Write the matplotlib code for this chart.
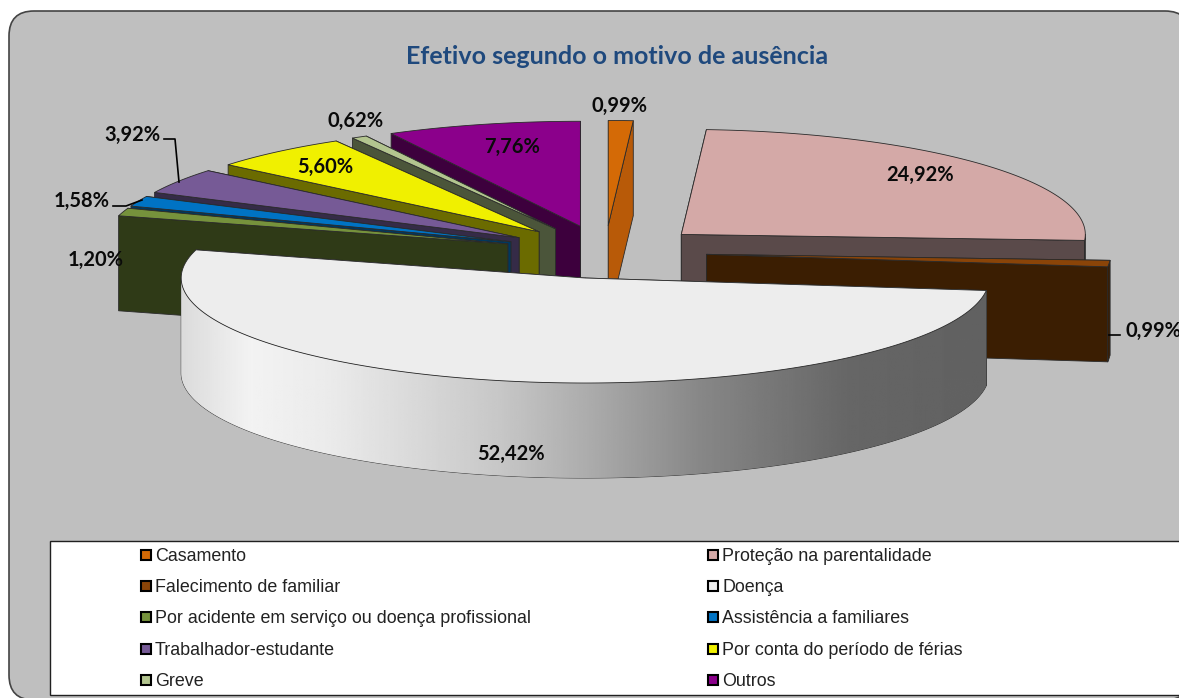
import numpy as np
from matplotlib import pyplot as plt
from matplotlib.patches import FancyBboxPatch, Polygon, Rectangle

categories = ["Casamento", "Proteção na parentalidade", "Falecimento de familiar", "Doença",
              "Por acidente em serviço ou doença profissional", "Assistência a familiares",
              "Trabalhador-estudante", "Por conta do período de férias", "Greve", "Outros"]
values = [0.99, 24.92, 0.99, 52.42, 1.20, 1.58, 3.92, 5.60, 0.62, 7.76]
top_colors = ["#D46A06", "#D4A9A7", "#8A4408", "#EDEDED", "#76923C",
              "#0073C4", "#765A96", "#F0F000", "#B3C58F", "#8B008B"]
side_colors = ["#B85A08", "#5A4A4A", "#3B1E02", "#808080", "#2F3A17",
               "#00385F", "#352B47", "#6B6B00", "#4B553A", "#3D003D"]
title = "Efetivo segundo o motivo de ausência"

# pie geometry, in pixels of the output
CX, CY = 605, 252
RX, RY = 404, 105
EXPLODE = 102
DEPTH = 95

label_pos = [(619, 106), (920, 175), (1153, 331), (511, 454), (96, 260),
             (82, 201), (132, 135), (325, 167), (356, 121), (512, 147)]
leaders = [[(1109, 335), (1120, 335)],
           [(113, 206), (126, 206), (142, 200)],
           [(164, 139), (175, 139), (179, 182)]]
grad_pos = [181, 250, 330, 500, 600, 700, 850, 990]
grad_val = [0.86, 0.95, 0.92, 0.78, 0.66, 0.53, 0.40, 0.38]

plt.rcParams['font.family'] = ['Liberation Sans', 'DejaVu Sans']

fig = plt.figure(figsize=(11.79, 6.98), dpi=100, facecolor="white")
ax = fig.add_axes([0, 0, 1, 1])
ax.set_xlim(0, 1179)
ax.set_ylim(698, 0)
ax.axis("off")

ax.add_patch(FancyBboxPatch((9, 11), 1181, 689, boxstyle="round,pad=0,rounding_size=25",
                            fc="#BFBFBF", ec="#444444", lw=1.2, zorder=0))


def arc(a0, a1, tx, ty, dz=0):
    t = np.radians(np.linspace(a0, a1, max(int(abs(a1 - a0) * 2), 2)))
    return np.column_stack([tx + RX * np.sin(t), ty - RY * np.cos(t) + dz])


def draw_slice(i, a0, a1, z):
    mid = np.radians((a0 + a1) / 2)
    tx = CX + EXPLODE * np.sin(mid)
    ty = CY - EXPLODE * RY / RX * np.cos(mid)
    edge = dict(ec="#2A2A2A", lw=0.6, joinstyle="round")
    faces = [a0, a1] if a0 + a1 < 360 else [a1, a0]
    for a in faces:
        p = arc(a, a, tx, ty)[0]
        quad = [(tx, ty), p, (p[0], p[1] + DEPTH), (tx, ty + DEPTH)]
        ax.add_patch(Polygon(quad, fc=side_colors[i], zorder=z, **edge))
    lo, hi = max(a0, 90), min(a1, 270)
    if lo < hi:
        wall = np.vstack([arc(lo, hi, tx, ty), arc(hi, lo, tx, ty, DEPTH)])
        poly = Polygon(wall, fc=side_colors[i], zorder=z + 0.1, **edge)
        ax.add_patch(poly)
        if categories[i] == "Doença":
            xs = np.linspace(wall[:, 0].min(), wall[:, 0].max(), 400)
            g = np.interp(xs, grad_pos, grad_val)[None, :]
            im = ax.imshow(g, cmap="gray", vmin=0, vmax=1, aspect="auto", zorder=z + 0.2,
                           extent=(xs[0], xs[-1], wall[:, 1].max(), wall[:, 1].min()))
            im.set_clip_path(poly)
            ax.set_xlim(0, 1179)
            ax.set_ylim(698, 0)
    top = np.vstack([[(tx, ty)], arc(a0, a1, tx, ty)])
    ax.add_patch(Polygon(top, fc=top_colors[i], zorder=z + 0.3, **edge))


stops = np.cumsum([0] + values) / sum(values) * 360
mids = (stops[:-1] + stops[1:]) / 2
# back slices first
for z, i in enumerate(np.argsort(-np.cos(np.radians(mids)))):
    draw_slice(i, stops[i], stops[i + 1], z + 1)

for pts in leaders:
    ax.plot(*zip(*pts), color="black", lw=1.2, zorder=20)

for v, (x, y) in zip(values, label_pos):
    ax.text(x, y, f"{v:.2f}%".replace(".", ","), ha="center", va="center", fontsize=14.5,
            fontweight="bold", family=["Lato", "DejaVu Sans"], color="#0A0A0A", zorder=21)

ax.text(617.5, 57, title, ha="center", va="center", fontsize=18, fontweight="bold",
        family=["Lato", "DejaVu Sans"], color="#1F497D", zorder=21)

# legend
ax.add_patch(Rectangle((50, 541), 1200, 154, fc="white", ec="#202020", lw=1, zorder=30))
rows = [555, 586, 617, 649, 680]
for i, name in enumerate(categories):
    x = 141 if i % 2 == 0 else 708
    y = rows[i // 2]
    ax.add_patch(Rectangle((x, y - 5), 10, 10, fc=top_colors[i], ec="black", lw=1.5, zorder=31))
    ax.text(x + 14, y + 6, name, ha="left", va="baseline", fontsize=12.85, color="#222222", zorder=31)

fig.savefig("out.png", dpi=100, facecolor="white")
